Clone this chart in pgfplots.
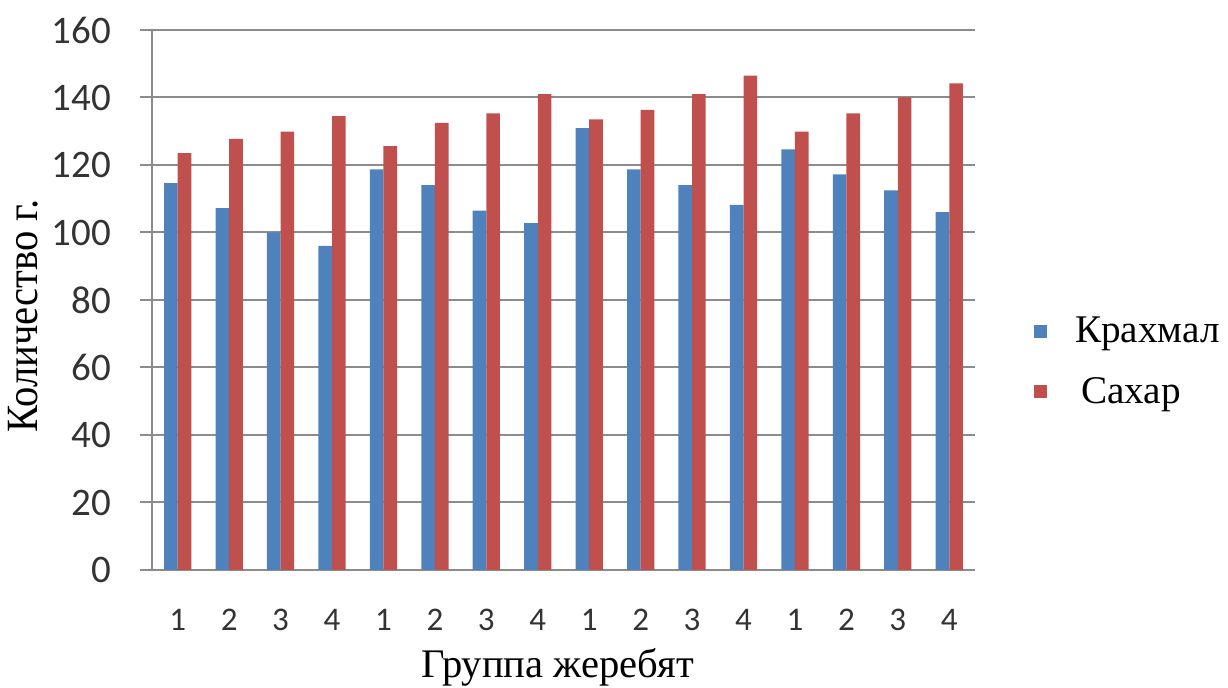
\documentclass[border=0pt]{standalone}
\usepackage{fontspec}
\setmainfont{Liberation Serif}
\newfontfamily\calibri{Carlito}
\usepackage{pgfplots}
\pgfplotsset{compat=1.18}
\definecolor{cblue}{HTML}{4F81BD}
\definecolor{cred}{HTML}{C0504D}
\definecolor{cgrid}{RGB}{140,140,140}
\begin{document}
\begin{tikzpicture}
\useasboundingbox (0,0) rectangle (614pt,344pt);
\begin{axis}[
  at={(76pt,59pt)}, anchor=south west,
  scale only axis,
  width=411.5pt, height=270pt,
  ybar=0pt, bar width=6.8pt,
  xmin=0.5, xmax=16.5,
  ymin=0, ymax=160,
  ytick={0,20,...,160},
  xtick={1,...,16},
  xticklabels={1,2,3,4,1,2,3,4,1,2,3,4,1,2,3,4},
  axis x line*=bottom,
  axis y line*=left,
  axis line style={cgrid, line width=1pt, -},
  x tick style={draw=none},
  y tick style={cgrid, line width=1pt},
  tick align=outside,
  major tick length=6pt,
  ymajorgrids,
  grid style={cgrid, line width=1pt},
  /pgf/number format/assume math mode=true,
  yticklabel style={font=\calibri\fontsize{19.5}{22}\selectfont, text=black!80, xshift=-11pt},
  xticklabel style={font=\calibri\fontsize{16.5}{20}\selectfont, text=black!80, yshift=-10pt},
  xlabel={Группа жеребят},
  ylabel={\scalebox{1}[1.1]{Количество г.}},
  label style={font=\fontsize{20.3}{22}\selectfont},
  ylabel style={at={(ticklabel cs:0.478)}, xshift=-2pt},
  xlabel style={yshift=-2pt, xshift=-3pt},
  legend style={at={(1.064,0.385)}, anchor=west, draw=none, fill=none,
    font=\fontsize{19.6}{22}\selectfont, row sep=12pt,
    /tikz/every odd column/.append style={column sep=12pt}},
  legend cell align=left,
  legend image code/.code={\fill[#1] (0pt,-3pt) rectangle (6.5pt,3.5pt);},
]
\addplot[fill=cblue, draw=none] coordinates {
(1,114.6) (2,107.2) (3,100.0) (4,96.0) (5,118.7) (6,114.0) (7,106.5) (8,102.8)
(9,130.9) (10,118.7) (11,114.0) (12,108.2) (13,124.6) (14,117.2) (15,112.5) (16,106.0)};
\addplot[fill=cred, draw=none] coordinates {
(1,123.5) (2,127.7) (3,129.9) (4,134.5) (5,125.6) (6,132.5) (7,135.3) (8,141.0)
(9,133.5) (10,136.3) (11,141.0) (12,146.5) (13,129.9) (14,135.3) (15,140.0) (16,144.2)};
\legend{Крахмал,\hspace{3pt}Сахар}
\end{axis}
\end{tikzpicture}
\end{document}
